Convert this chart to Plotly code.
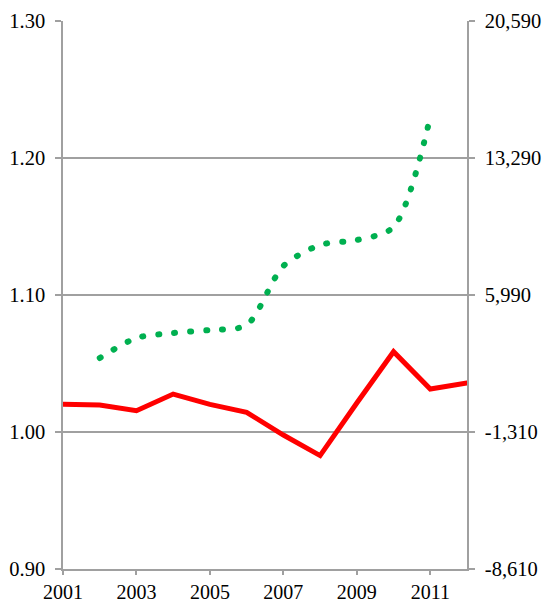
import plotly.graph_objects as go

years_red = [2001, 2002, 2003, 2004, 2005, 2006, 2007, 2008, 2009, 2010, 2011, 2012]
red_values = [1.0202, 1.0197, 1.0155, 1.0277, 1.0202, 1.0144, 0.9978, 0.9828, 1.0212, 1.0586, 1.0314, 1.0358]

years_green = [2002, 2003, 2004, 2005, 2006, 2007, 2008, 2009, 2010, 2011]
green_values = [2633, 3699, 3965, 4125, 4392, 7535, 8654, 8920, 9613, 15474]

x_tickvals = [2001, 2003, 2005, 2007, 2009, 2011]
x_ticktext = ["2001", "2003", "2005", "2007", "2009", "2011"]
left_tickvals = [0.90, 1.00, 1.10, 1.20, 1.30]
left_ticktext = ["0.90", "1.00", "1.10", "1.20", "1.30"]
right_tickvals = [-8610, -1310, 5990, 13290, 20590]
right_ticktext = ["-8,610", "-1,310", "5,990", "13,290", "20,590"]

AX = "#A0A0A0"
FONT = dict(family="Liberation Serif", size=20.5, color="#000000")
XFONT = dict(family="Liberation Serif", size=20, color="#000000")

fig = go.Figure()
fig.add_trace(go.Scatter(
    x=years_red, y=red_values, mode="lines",
    line=dict(color="#FF0000", width=5), yaxis="y", showlegend=False,
))
fig.add_trace(go.Scatter(
    x=years_green, y=green_values, mode="lines",
    line=dict(color="#00B050", width=6, dash="1px,15px", shape="spline", smoothing=0.8),
    yaxis="y2", showlegend=False,
))

fig.update_layout(
    width=545, height=602,
    margin=dict(l=63, r=78, t=21, b=33, autoexpand=False),
    paper_bgcolor="white", plot_bgcolor="white",
    font=FONT,
    xaxis=dict(
        range=[2001, 2012], tickvals=x_tickvals, ticktext=x_ticktext,
        showgrid=False, zeroline=False, showline=True, linecolor=AX, linewidth=1.5,
        ticks="outside", ticklen=4, tickcolor=AX, tickwidth=1.5,
        tickfont=XFONT, automargin=False,
    ),
    yaxis=dict(
        range=[0.90, 1.30], tickvals=left_tickvals, ticktext=left_ticktext,
        showgrid=True, gridcolor=AX, gridwidth=1.5, zeroline=False,
        showline=True, linecolor=AX, linewidth=1.5,
        ticks="outside", ticklen=6, tickcolor=AX, tickwidth=1.5,
        tickfont=FONT, ticklabelstandoff=6, automargin=False,
    ),
    yaxis2=dict(
        range=[-8610, 20590], tickvals=right_tickvals, ticktext=right_ticktext,
        overlaying="y", side="right", showgrid=False, zeroline=False,
        showline=True, linecolor=AX, linewidth=1.5,
        ticks="outside", ticklen=6, tickcolor=AX, tickwidth=1.5,
        tickfont=FONT, ticklabelstandoff=6, automargin=False,
    ),
)

post = """
document.body.style.margin = '0';
document.body.style.padding = '0';
var st = document.createElement('style');
st.textContent = 'path.js-line { stroke-linecap: round !important; }';
document.head.appendChild(st);
"""
fig.write_html("out.html", post_script=post, config={"displayModeBar": False})
